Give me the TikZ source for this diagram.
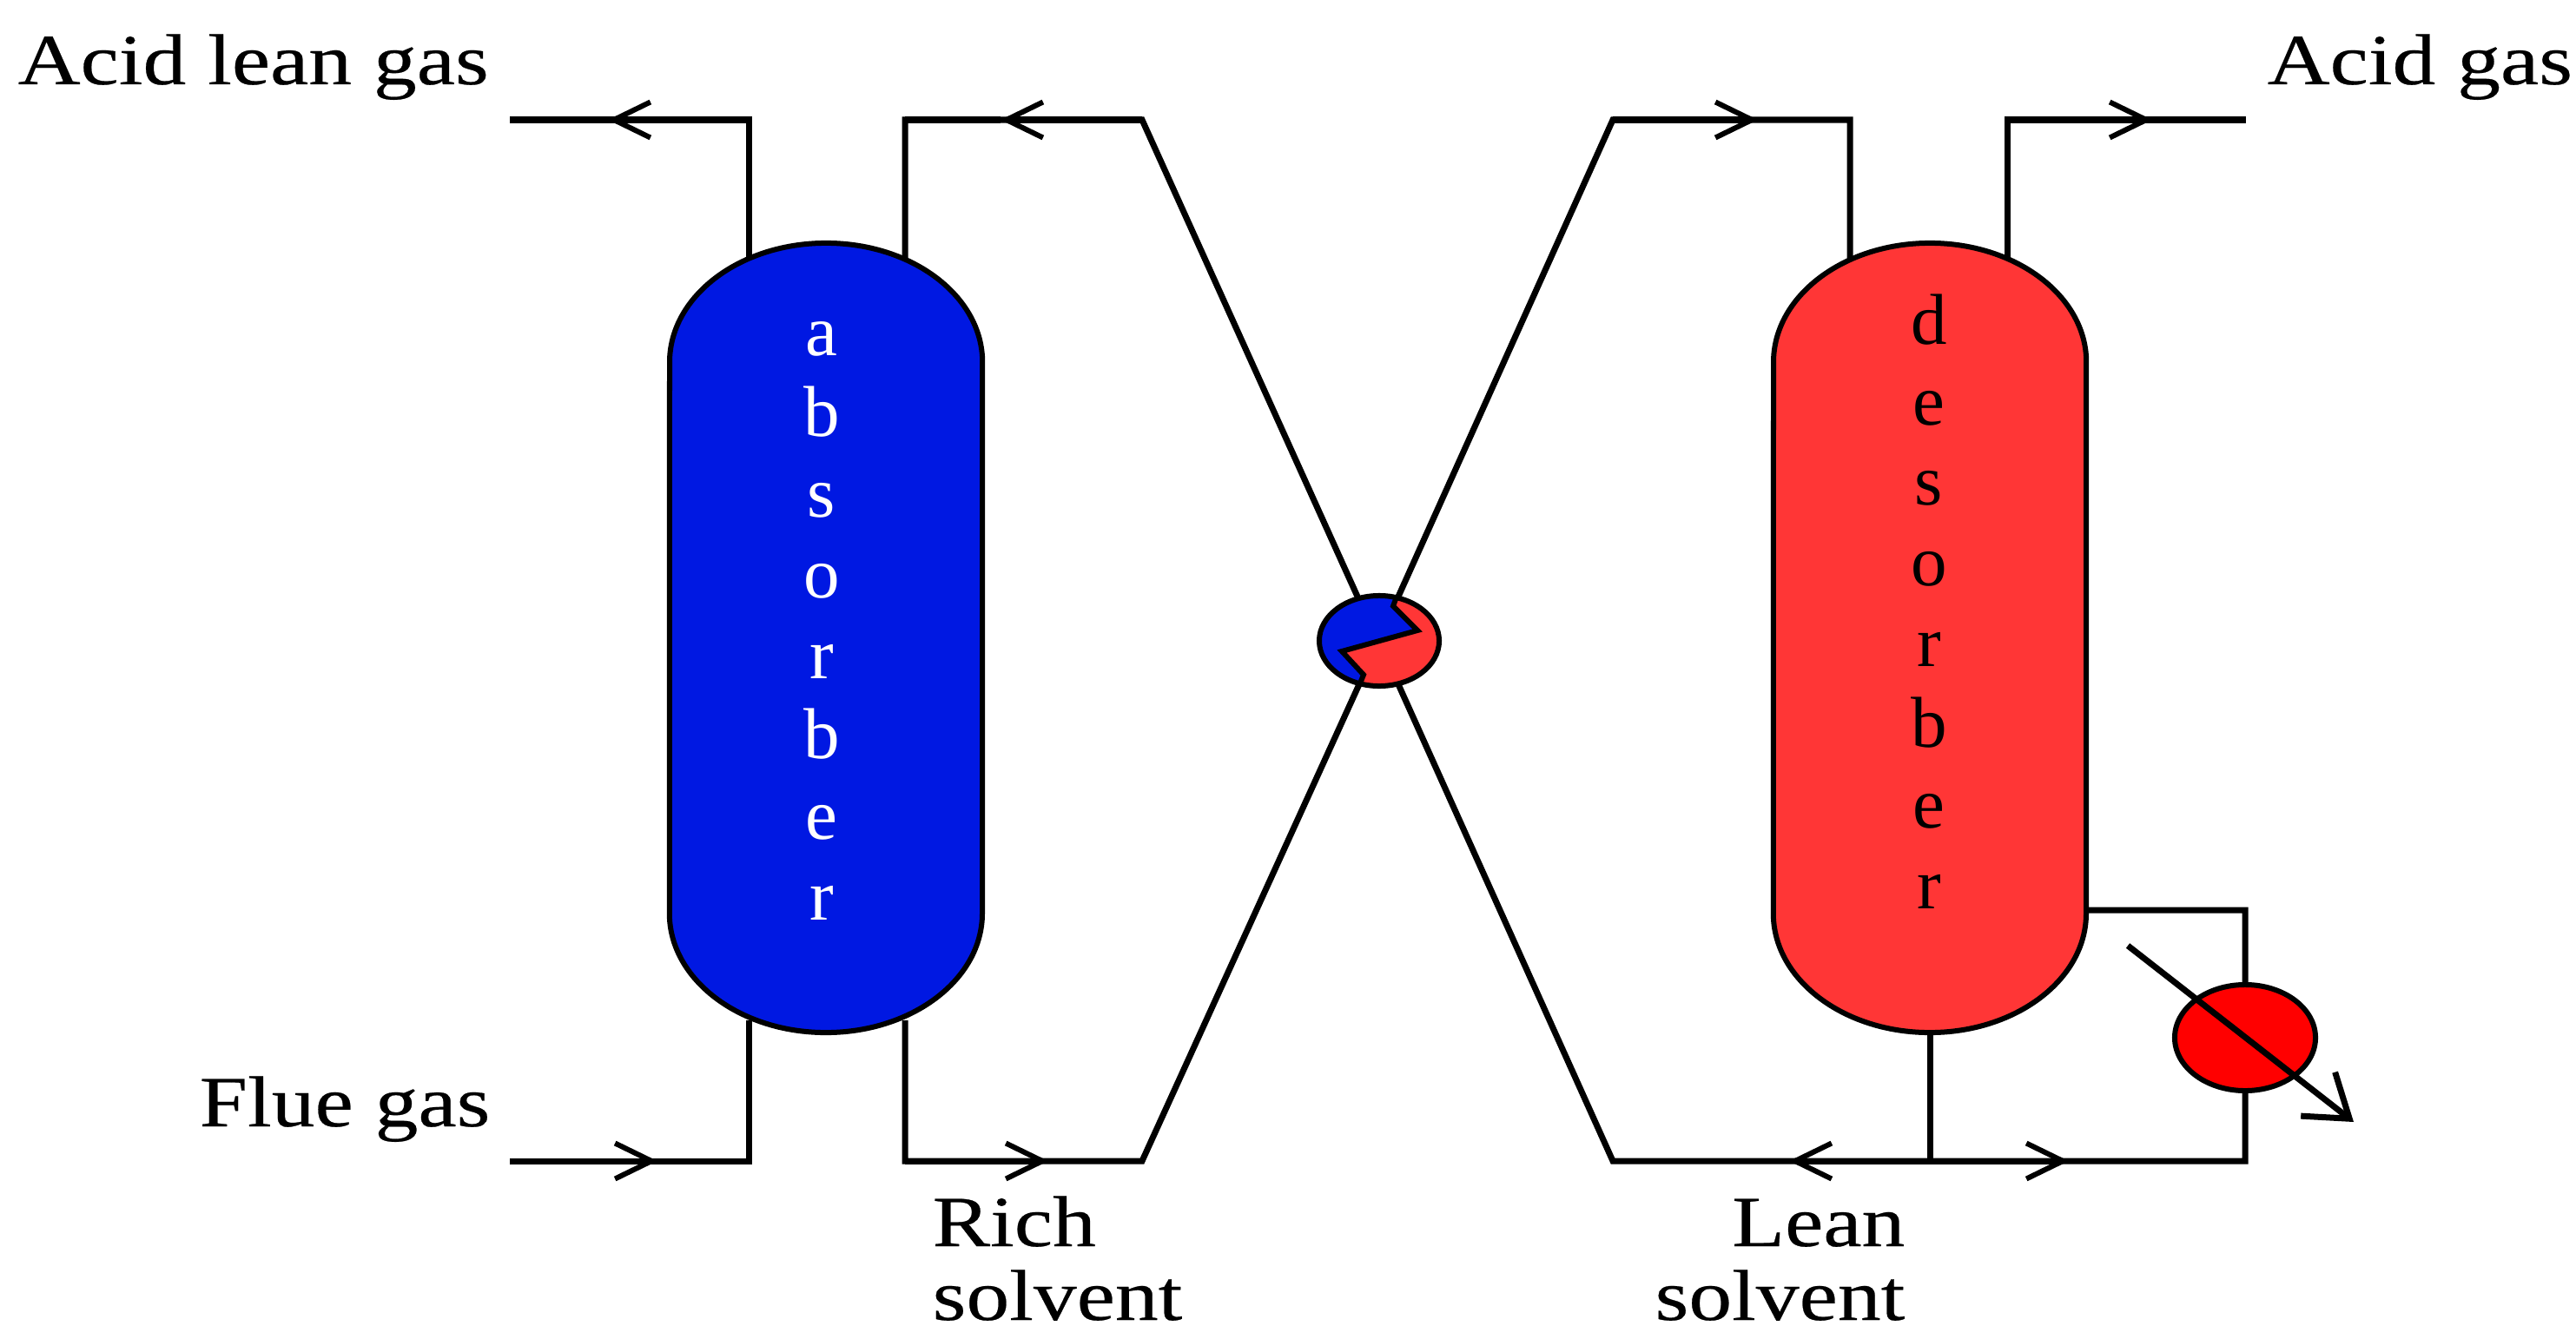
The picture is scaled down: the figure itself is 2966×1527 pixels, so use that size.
\documentclass[tikz,border=0pt]{standalone}
\usepackage{fontspec}
\setmainfont[FakeStretch=1.2,FakeBold=0.3]{Liberation Serif}
\newfontfamily\plainserif{Liberation Serif}
\usetikzlibrary{arrows.meta}
\definecolor{vesselblue}{HTML}{0018E2}
\definecolor{vesselred}{HTML}{FF3636}
\definecolor{boilerred}{HTML}{FF0000}
\tikzset{
  x=0.01cm,y=-0.01cm,
  pipe/.style={draw=black,line width=0.7mm,line join=miter},
  thinpipe/.style={draw=black,line width=0.6mm,line join=miter},
  flowtip/.style={pipe,-{Straight Barb[length=4.2mm,width=4.1mm,line width=0.6mm]}},
  vessel/.style={draw=black,line width=0.6mm},
  label/.style={font=\fontsize{23.6}{23.6}\selectfont,inner sep=0pt,text=black},
  column/.style={font=\plainserif\fontsize{23.6}{26.4}\selectfont,inner sep=0pt,align=center,anchor=north},
}
\begin{document}
\begin{tikzpicture}
\useasboundingbox (0,0) rectangle (2966,1527);
% connection points
\coordinate (altop) at (862,300);\coordinate (alcorner) at (862,138);\coordinate (alend) at (587,138);\coordinate (altip) at (700,138);
\coordinate (rtop) at (1042,300);\coordinate (rcorner) at (1042,138);\coordinate (rkink) at (1315,138);\coordinate (rtip) at (1152,138);
\coordinate (fbot) at (862,1175);\coordinate (fcorner) at (862,1337);\coordinate (fend) at (587,1337);\coordinate (ftip) at (757,1337);
\coordinate (rbbot) at (1042,1175);\coordinate (rbcorner) at (1042,1337);\coordinate (rbkink) at (1315,1337);\coordinate (rbtip) at (1207,1337);
\coordinate (ltkink) at (1857,138);\coordinate (ltcorner) at (2130,138);\coordinate (lttop) at (2130,300);\coordinate (lttip) at (2024,138);
\coordinate (agtop) at (2311,300);\coordinate (agcorner) at (2311,138);\coordinate (agend) at (2586,138);\coordinate (agtip) at (2478,138);
\coordinate (lbkink) at (1857,1337);\coordinate (dbot) at (2222,1191);\coordinate (djunc) at (2222,1337);\coordinate (lbtip) at (2060,1337);
\coordinate (rctip) at (2382,1337);\coordinate (rccorner) at (2585,1337);
\coordinate (rsout) at (2402,1048);\coordinate (rscorner) at (2585,1048);
\coordinate (hul) at (1563,687);\coordinate (hur) at (1610,687);\coordinate (hll) at (1565,788);\coordinate (hlr) at (1610,788);
\coordinate (bstart) at (2450,1089);\coordinate (btip) at (2710,1292);
% pipes
\draw[pipe] (altop) -- (alcorner) -- (altip);
\draw[flowtip] (alcorner) -- (altip);
\draw[pipe] (altip) -- (alend);
\draw[pipe] (rtop) -- (rcorner) -- (rkink) -- (hul);
\draw[flowtip] (rkink) -- (rtip);
\draw[pipe] (rtip) -- (rcorner);
\draw[pipe] (fend) -- (fcorner) -- (fbot);
\draw[flowtip] (fend) -- (ftip);
\draw[pipe] (rbbot) -- (rbcorner) -- (rbkink) -- (hll);
\draw[flowtip] (rbcorner) -- (rbtip);
\draw[pipe] (hur) -- (ltkink) -- (ltcorner) -- (lttop);
\draw[flowtip] (ltkink) -- (lttip);
\draw[pipe] (agtop) -- (agcorner) -- (agend);
\draw[flowtip] (agcorner) -- (agtip);
\draw[pipe] (hlr) -- (lbkink) -- (rccorner) -- (rscorner) -- (rsout);
\draw[pipe] (dbot) -- (djunc);
\draw[flowtip] (djunc) -- (lbtip);
\draw[flowtip] (djunc) -- (rctip);
% absorber
\path[vessel,fill=vesselblue] (771,417) arc[start angle=180,end angle=0,x radius=1.8cm,y radius=1.37cm] -- (1131,1052) arc[start angle=0,end angle=-180,x radius=1.8cm,y radius=1.37cm] -- cycle;
% desorber
\path[vessel,fill=vesselred] (2042,417) arc[start angle=180,end angle=0,x radius=1.8cm,y radius=1.37cm] -- (2402,1052) arc[start angle=0,end angle=-180,x radius=1.8cm,y radius=1.37cm] -- cycle;
% heat exchanger
\begin{scope}
\clip (1588,738) ellipse [x radius=0.69cm,y radius=0.52cm];
\fill[vesselred] (1500,670) rectangle (1680,810);
\fill[vesselblue] (1607,680) -- (1604,698) -- (1632,726) -- (1545,750) -- (1570,777) -- (1566,800) -- (1500,800) -- (1500,680) -- cycle;
\end{scope}
\draw[thinpipe] (1607,690) -- (1604,698) -- (1632,726) -- (1545,750) -- (1570,777) -- (1566,787);
\draw[vessel] (1588,738) ellipse [x radius=0.69cm,y radius=0.52cm];
% reboiler
\draw[vessel,fill=boilerred] (2585,1195) ellipse [x radius=0.81cm,y radius=0.61cm];
\draw[pipe,-{Straight Barb[length=4.6mm,width=6.4mm,line width=0.7mm]}] (bstart) -- (btip);
% text
\node[label,anchor=base west] (tal) at (20,97) {Acid lean gas};
\node[label,anchor=base west] (tag) at (2610,97) {Acid gas};
\node[label,anchor=base west] (tfg) at (229,1297) {Flue gas};
\node[label,anchor=base west] (trich) at (1073,1435) {Rich};
\node[label,anchor=base west] (tsolv) at (1073,1520) {solvent};
\node[label,anchor=base east] (tlean) at (2194,1435) {Lean};
\node[label,anchor=base east] (tsolv2) at (2194,1520) {solvent};
\node[column,text=white] (tabs) at (946,370) {a\\b\\s\\o\\r\\b\\e\\r};
\node[column,text=black] (tdes) at (2221,338) {d\\e\\s\\o\\r\\b\\e\\r};
\end{tikzpicture}
\end{document}
